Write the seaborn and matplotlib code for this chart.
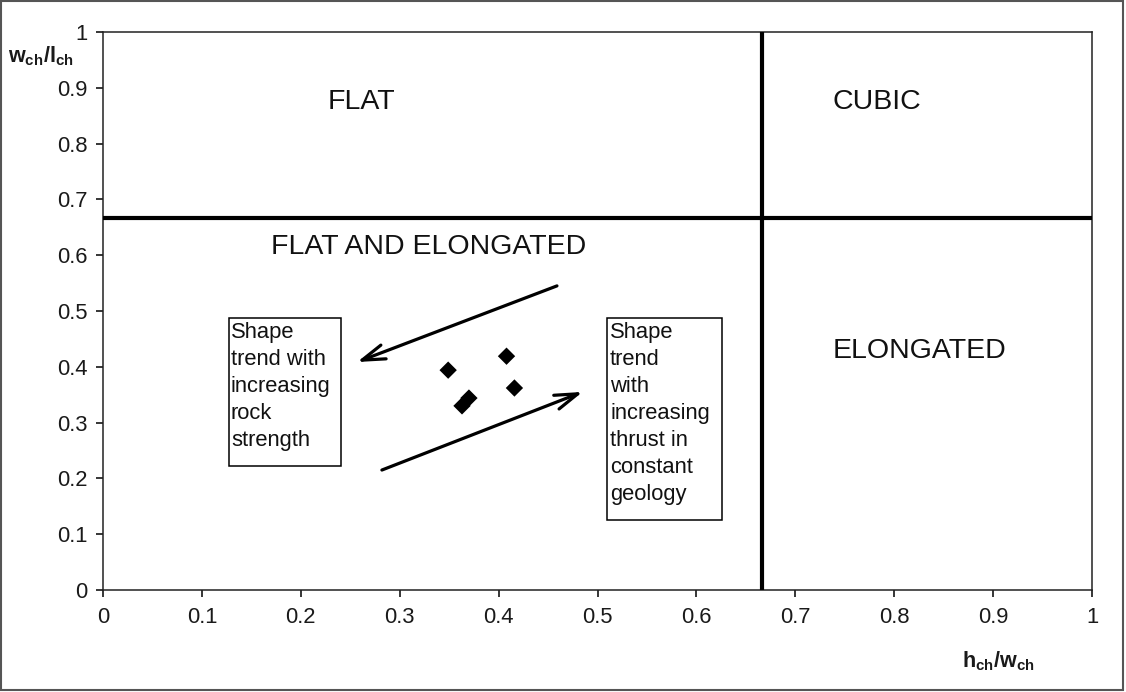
import matplotlib
matplotlib.use("Agg")
import matplotlib.pyplot as plt
from matplotlib.patches import Rectangle
import seaborn as sns
import pandas as pd

# Measured channel shape ratios
h_over_w = [0.349, 0.408, 0.416, 0.363, 0.370]
w_over_l = [0.394, 0.419, 0.362, 0.330, 0.344]

# Class boundaries (2/3 on both ratios)
boundary = 2 / 3

tick_values = [0, 0.1, 0.2, 0.3, 0.4, 0.5, 0.6, 0.7, 0.8, 0.9, 1]
tick_labels = ["0", "0.1", "0.2", "0.3", "0.4", "0.5", "0.6", "0.7", "0.8", "0.9", "1"]

region_names = ["FLAT", "CUBIC", "FLAT AND ELONGATED", "ELONGATED"]
region_pos = [(0.2275, 0.874), (0.738, 0.874), (0.170, 0.614), (0.738, 0.428)]

note_left = "Shape\ntrend with\nincreasing\nrock\nstrength"
note_right = "Shape\ntrend\nwith\nincreasing\nthrust in\nconstant\ngeology"

sns.set_style("ticks")
plt.rcParams["font.family"] = ["Liberation Sans", "DejaVu Sans"]
plt.rcParams["mathtext.fontset"] = "custom"
plt.rcParams["mathtext.rm"] = "Liberation Sans"
plt.rcParams["mathtext.bf"] = "Liberation Sans:bold"
plt.rcParams["mathtext.it"] = "Liberation Sans:italic"

fig = plt.figure(figsize=(11.26, 6.92), dpi=100)
ax = fig.add_axes([103 / 1126, 1 - 590 / 692, 989 / 1126, 558 / 692])

df = pd.DataFrame({"h": h_over_w, "w": w_over_l})
sns.scatterplot(data=df, x="h", y="w", marker="D", s=78, color="black",
                edgecolor="none", ax=ax, zorder=5)

ax.axvline(boundary, color="black", lw=3.0, zorder=3)
ax.axhline(boundary, color="black", lw=3.0, zorder=3)

ax.set_xlim(0, 1)
ax.set_ylim(0, 1)
ax.set_xticks(tick_values)
ax.set_xticklabels(tick_labels)
ax.set_yticks(tick_values)
ax.set_yticklabels(tick_labels)
ax.tick_params(axis="both", direction="out", length=5, width=1.1, color="black",
               labelsize=15.8, labelcolor="#1a1a1a")
ax.tick_params(axis="x", pad=7)
ax.tick_params(axis="y", pad=6)
for sp in ax.spines.values():
    sp.set_visible(True)
    sp.set_color("#222222")
    sp.set_linewidth(1.1)

ax.set_xlabel(r"$\mathbf{h_{ch}/w_{ch}}$", fontsize=15.5, color="#1a1a1a",
              va="center", ha="center")
ax.set_ylabel(r"$\mathbf{w_{ch}/l_{ch}}$", fontsize=15.5, color="#1a1a1a",
              rotation=0, va="center", ha="center")
ax.xaxis.set_label_coords(0.905, -0.127)
ax.yaxis.set_label_coords(-0.0627, 0.957)

for name, (x, y) in zip(region_names, region_pos):
    ax.text(x, y, name, fontsize=20.5, ha="left", va="center", color="#111111")

# Trend note boxes
ax.add_patch(Rectangle((0.1274, 0.2222), 0.1132, 0.2653, fill=False,
                       edgecolor="black", lw=1.1, zorder=4))
ax.add_patch(Rectangle((0.5096, 0.1254), 0.1163, 0.3621, fill=False,
                       edgecolor="black", lw=1.1, zorder=4))
ax.text(0.1294, 0.4810, note_left, fontsize=15.8, ha="left", va="top",
        linespacing=1.38, color="#111111", zorder=6)
ax.text(0.5127, 0.4810, note_right, fontsize=15.8, ha="left", va="top",
        linespacing=1.38, color="#111111", zorder=6)

# Trend arrows
arrow_style = dict(arrowstyle="->,head_length=0.75,head_width=0.24", lw=2.3,
                   color="black", mutation_scale=22, shrinkA=0, shrinkB=0)
ax.annotate("", xy=(0.257, 0.4086), xytext=(0.459, 0.545), arrowprops=arrow_style)
ax.annotate("", xy=(0.485, 0.355), xytext=(0.282, 0.215), arrowprops=arrow_style)

# Figure frame
fig.patches.append(Rectangle((0.001, 0.003), 0.996, 0.996, transform=fig.transFigure,
                             fill=False, edgecolor="#555555", lw=1.5))

fig.savefig("out.png", dpi=100)
